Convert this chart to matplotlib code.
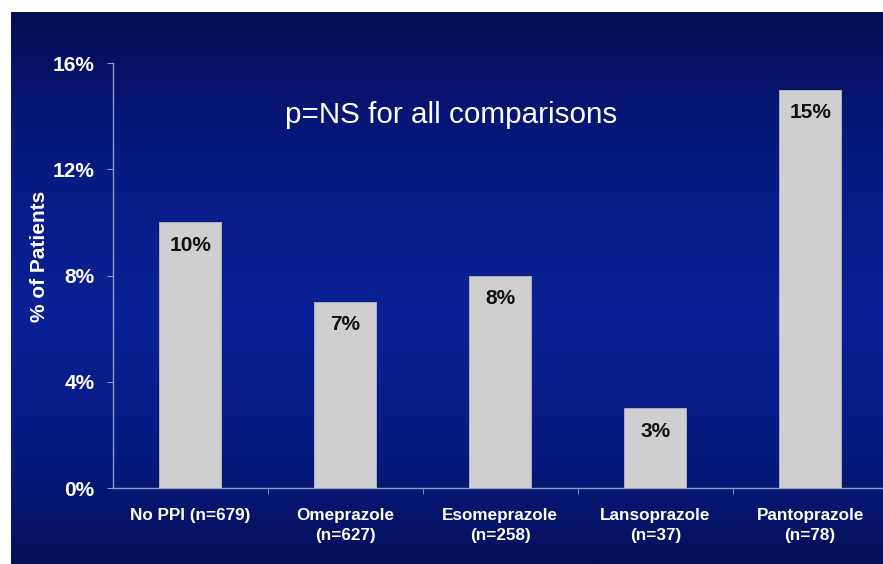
import numpy as np
import matplotlib
matplotlib.use('Agg')
import matplotlib.pyplot as plt
from matplotlib.colors import LinearSegmentedColormap

# data
categories = ['No PPI (n=679)', 'Omeprazole\n(n=627)', 'Esomeprazole\n(n=258)',
              'Lansoprazole\n(n=37)', 'Pantoprazole\n(n=78)']
values = [10, 7, 8, 3, 15]
value_labels = ['10%', '7%', '8%', '3%', '15%']
yticks = [0, 4, 8, 12, 16]
ytick_labels = ['0%', '4%', '8%', '12%', '16%']

plt.rcParams['font.family'] = ['Liberation Sans', 'DejaVu Sans']

W, H = 883, 564
fig = plt.figure(figsize=(W / 100, H / 100), dpi=100)
fig.patch.set_facecolor('white')

# blue gradient panel (slide background)
bg = fig.add_axes([11 / W, 0, (W - 11) / W, (H - 12) / H])
grad_cmap = LinearSegmentedColormap.from_list(
    'slide', [(0.0, '#050d55'), (0.25, '#081a80'), (0.55, '#0a2296'),
              (0.8, '#071a80'), (1.0, '#05105a')])
grad = np.linspace(0, 1, 256).reshape(-1, 1)
bg.imshow(grad, aspect='auto', cmap=grad_cmap, extent=(0, 1, 0, 1))
bg.axis('off')

ax = fig.add_axes([113 / W, 76 / H, (W - 113) / W, 425 / H])
ax.patch.set_alpha(0)
x = np.arange(len(categories))
ax.bar(x, values, width=0.4, color='#cfcfd1', edgecolor='#b8b8c0', linewidth=0.6, zorder=3)

for xi, v, lab in zip(x, values, value_labels):
    ax.annotate(lab, (xi, v), xytext=(0, -16.5), textcoords='offset points',
                ha='center', va='center', fontsize=15, fontweight='bold', color='#111111',
                zorder=4)

ax.set_xlim(-0.5, 4.47)
ax.set_ylim(0, 16)
ax.set_yticks(yticks)
ax.set_yticklabels(ytick_labels, fontsize=15, fontweight='bold', color='white')
ax.set_xticks(x)
ax.set_xticklabels(categories, fontsize=12.3, fontweight='bold', color='white', linespacing=1.4)
ax.tick_params(axis='x', length=0, pad=14.5)
ax.set_xticks(np.arange(0.5, 4.5, 1), minor=True)
ax.tick_params(axis='x', which='minor', length=4, color='#8f98c8', direction='out')
ax.tick_params(axis='y', length=4, color='#8f98c8', pad=9.5)

for side in ['top', 'right']:
    ax.spines[side].set_visible(False)
for side in ['left', 'bottom']:
    ax.spines[side].set_color('#8f98c8')
    ax.spines[side].set_linewidth(1.0)

ax.set_ylabel('% of Patients', fontsize=15, fontweight='bold', color='white')
ax.yaxis.set_label_coords((48.5 - 113) / 770, (488 - 256) / 425)

fig.text(451 / W, 1 - 115 / H, 'p=NS for all comparisons', fontsize=21.3,
         color='white', ha='center', va='center')

fig.savefig('out.png', dpi=100, facecolor=fig.get_facecolor())
